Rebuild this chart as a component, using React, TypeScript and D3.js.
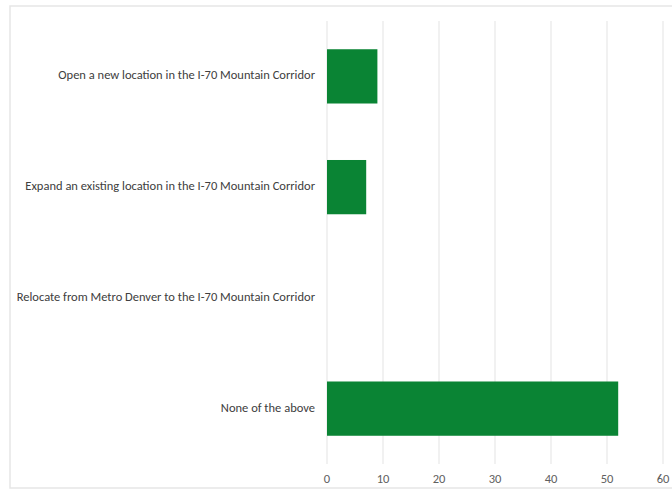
import React from "react";
import * as d3 from "d3";

const categories = [
  "Open a new location in the I-70 Mountain Corridor",
  "Expand an existing location in the I-70 Mountain Corridor",
  "Relocate from Metro Denver to the I-70 Mountain Corridor",
  "None of the above",
];
const values = [9, 7, 0, 52];
const xTicks = [0, 10, 20, 30, 40, 50, 60];

const W = 672;
const H = 494;
const plot = { left: 327, right: 663, top: 21, bottom: 464 };

export default function App() {
  const x = d3.scaleLinear().domain([0, 60]).range([plot.left, plot.right]);
  const y = d3
    .scaleBand<string>()
    .domain(categories)
    .range([plot.top, plot.bottom])
    .paddingInner(0.51)
    .paddingOuter(0.255);
  return (
    <svg
      width={W}
      height={H}
      style={{ position: "absolute", left: 0, top: 0, background: "#fff" }}
      fontFamily="Carlito, 'Liberation Sans', 'Open Sans', sans-serif"
    >
      <rect x={10} y={6} width={670} height={482} fill="#fff" stroke="#e6e6e6" strokeWidth={1.5} />
      {xTicks.map((t) => (
        <line key={t} x1={x(t)} x2={x(t)} y1={plot.top} y2={plot.bottom} stroke="#e3e3e3" strokeWidth={1} />
      ))}
      {categories.map((c, i) => (
        <rect
          key={c}
          x={x(0)}
          y={y(c)!}
          width={x(values[i]) - x(0)}
          height={y.bandwidth()}
          fill="#0a8434"
        />
      ))}
      {categories.map((c) => (
        <text
          key={c}
          x={plot.left - 12}
          y={y(c)! + y.bandwidth() / 2}
          textAnchor="end"
          dominantBaseline="middle"
          fontSize={12.5}
          fill="#404040"
        >
          {c}
        </text>
      ))}
      {xTicks.map((t) => (
        <text key={t} x={x(t)} y={480} textAnchor="middle" dominantBaseline="middle" fontSize={12.5} fill="#606060">
          {t}
        </text>
      ))}
    </svg>
  );
}
